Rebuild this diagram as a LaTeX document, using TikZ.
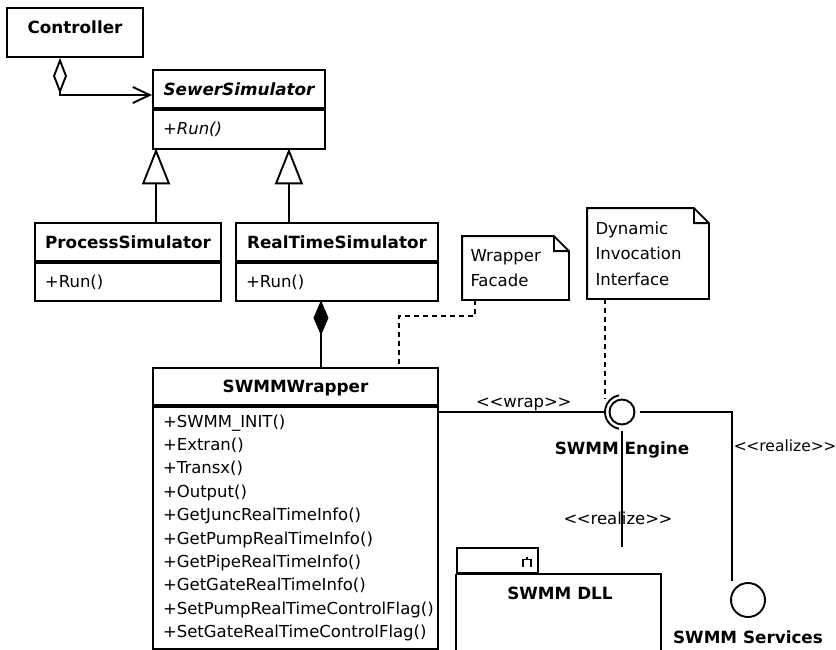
\documentclass[tikz,border=0pt]{standalone}
\usepackage{fontspec}
\setmainfont{DejaVu Sans}
\usetikzlibrary{arrows.meta}

\newcommand{\umlreg}{\fontsize{16.5}{23.4}\selectfont}
\newcommand{\umlbf}{\fontsize{16.8}{23.4}\selectfont\bfseries}
\newcommand{\stereo}[1]{<\kern-0.5pt<#1>\kern-0.5pt>}

\begin{document}
\begin{tikzpicture}[x=1pt,y=-1pt,line width=1.9pt]
	\tikzstyle{classhead} = [draw,inner sep=0pt,text height=12.2pt,text depth=0pt,font=\umlbf]
	\tikzstyle{classops} = [draw,anchor=north,inner xsep=10pt,inner ysep=0pt,align=left,font=\umlreg]
	\tikzstyle{note} = [inner xsep=7.5pt,inner ysep=0pt,align=left,font=\fontsize{16.5}{25.5}\selectfont]
	\tikzstyle{iface} = [circle,draw,inner sep=0pt]
	\tikzstyle{lbl} = [inner sep=1pt,font=\umlreg]
	\tikzstyle{lblbf} = [inner sep=1pt,font=\umlbf]
	\tikzstyle{dep} = [line width=1.6pt,dash pattern=on 5pt off 4pt]
	\useasboundingbox (0,0) rectangle (836,649);
	% classes
	\node[classhead,minimum width=136pt,minimum height=49pt,text depth=11pt] (controller) at (75,32.5) {Controller};
	\node[classhead,minimum width=172pt,minimum height=38pt] (sewer) at (239,89) {\itshape SewerSimulator};
	\node[classops,text width=152pt,minimum height=39pt] (sewerops) at (sewer.south) {\itshape +Run()};
	\node[classhead,minimum width=186pt,minimum height=38pt] (process) at (128,242) {ProcessSimulator};
	\node[classops,text width=166pt,minimum height=38pt] (processops) at (process.south) {+Run()};
	\node[classhead,minimum width=202pt,minimum height=38pt] (realtime) at (337,242) {RealTimeSimulator};
	\node[classops,text width=182pt,minimum height=38pt] (realtimeops) at (realtime.south) {+Run()};
	\node[classhead,minimum width=285pt,minimum height=37pt] (wrapper) at (295.5,386.5) {SWMMWrapper};
	\node[classops,text width=265pt,minimum height=242pt] (wrapperops) at (wrapper.south)
		{+SWMM\_INIT()\\+Extran()\\+Transx()\\+Output()\\+GetJuncRealTimeInfo()\\+GetPumpRealTimeInfo()\\
		 +GetPipeRealTimeInfo()\\+GetGateRealTimeInfo()\\+SetPumpRealTimeControlFlag()\\+SetGateRealTimeControlFlag()};
	% aggregation
	\coordinate (agg) at ([xshift=-15pt]controller.south);
	\coordinate (aggend) at ([yshift=-6pt]sewer.west);
	\draw[{Diamond[open,length=36pt,width=14pt]}-{Straight Barb[length=17pt,width=16pt]}] (agg) |- (aggend);
	% generalization
	\coordinate (genl) at ([xshift=4pt]sewerops.south west);
	\coordinate (genr) at ([xshift=-37pt]sewerops.south east);
	\foreach \g/\c in {genl/process,genr/realtime}
		\draw[-{Triangle[open,length=36pt,width=28pt]}] (\g |- \c.north) -- ([yshift=1.5pt]\g);
	% composition
	\coordinate (comp) at ([xshift=-16pt,yshift=1.5pt]realtimeops.south);
	\draw[{Diamond[length=35pt,width=15pt]}-] (comp) -- (comp |- wrapper.north);
	% notes
	\node[note,text width=90pt,minimum height=62pt] (facade) at (515.5,268) {Wrapper\\Facade};
	\node[note,text width=105pt,minimum height=89pt] (dii) at (648,253.5) {Dynamic\\Invocation\\Interface};
	\foreach \n in {facade,dii}
		\draw (\n.north west) -- ([xshift=-15pt]\n.north east) -- ([yshift=-15pt]\n.north east) -- (\n.south east) -- (\n.south west) -- cycle
			([xshift=-15pt]\n.north east) -- ([xshift=-15pt,yshift=-15pt]\n.north east) -- ([yshift=-15pt]\n.north east);
	% interfaces
	\node[iface,minimum size=25pt] (engine) at (622,412) {};
	\draw (engine.center) ++(100:17) arc[start angle=100,end angle=260,radius=17];
	\node[lblbf] (enginelbl) at ([yshift=-38pt]engine.center) {SWMM Engine};
	\node[iface,minimum size=34pt] (services) at (748,600) {};
	\node[lblbf] (serviceslbl) at ([yshift=-37pt]services.center) {SWMM Services};
	% component
	\node[draw,minimum width=81pt,minimum height=25pt] (dlltab) at (497.5,560.5) {};
	\draw (dlltab.south west) -- ++(0,90) (dlltab.south west) -- ++(205,0) -- ++(0,90);
	\node[lblbf] (dll) at (560,593) {SWMM DLL};
	\coordinate (fork) at ([xshift=-12pt,yshift=1pt]dlltab.east);
	\draw[line width=1.5pt] ([yshift=3pt]fork) -- (fork);
	\draw[line width=1.5pt] ([xshift=-4pt,yshift=-7pt]fork) -- ([xshift=-4pt]fork) -- ([xshift=4pt]fork) -- ([xshift=4pt,yshift=-7pt]fork);
	% dependencies
	\coordinate (fdash) at ([xshift=13pt]facade.south west);
	\coordinate (wdash) at ([xshift=103.5pt]wrapper.north);
	\draw[dep] (fdash) -- ++(0,16) -| (wdash);
	\coordinate (ddash) at ([xshift=18pt]dii.south west);
	\draw[dep] (ddash) -- (ddash |- engine.north);
	% realizations
	\draw[shorten >=4pt] (wrapperops.east |- engine.west) -- node[lbl,above=-1pt]{\stereo{wrap}} (engine.west);
	\coordinate (srvtop) at ([xshift=-16pt,yshift=1pt]services.north);
	\draw[shorten <=5pt] (engine.east) -| node[lbl,anchor=west,pos=0.6,font=\fontsize{15.5}{18}\selectfont]{\stereo{realize}} (srvtop);
	\draw[shorten <=6pt] (engine.south) -- node[lbl,pos=0.76,xshift=-4pt]{\stereo{realize}} (engine.south |- dlltab.north);
\end{tikzpicture}
\end{document}
